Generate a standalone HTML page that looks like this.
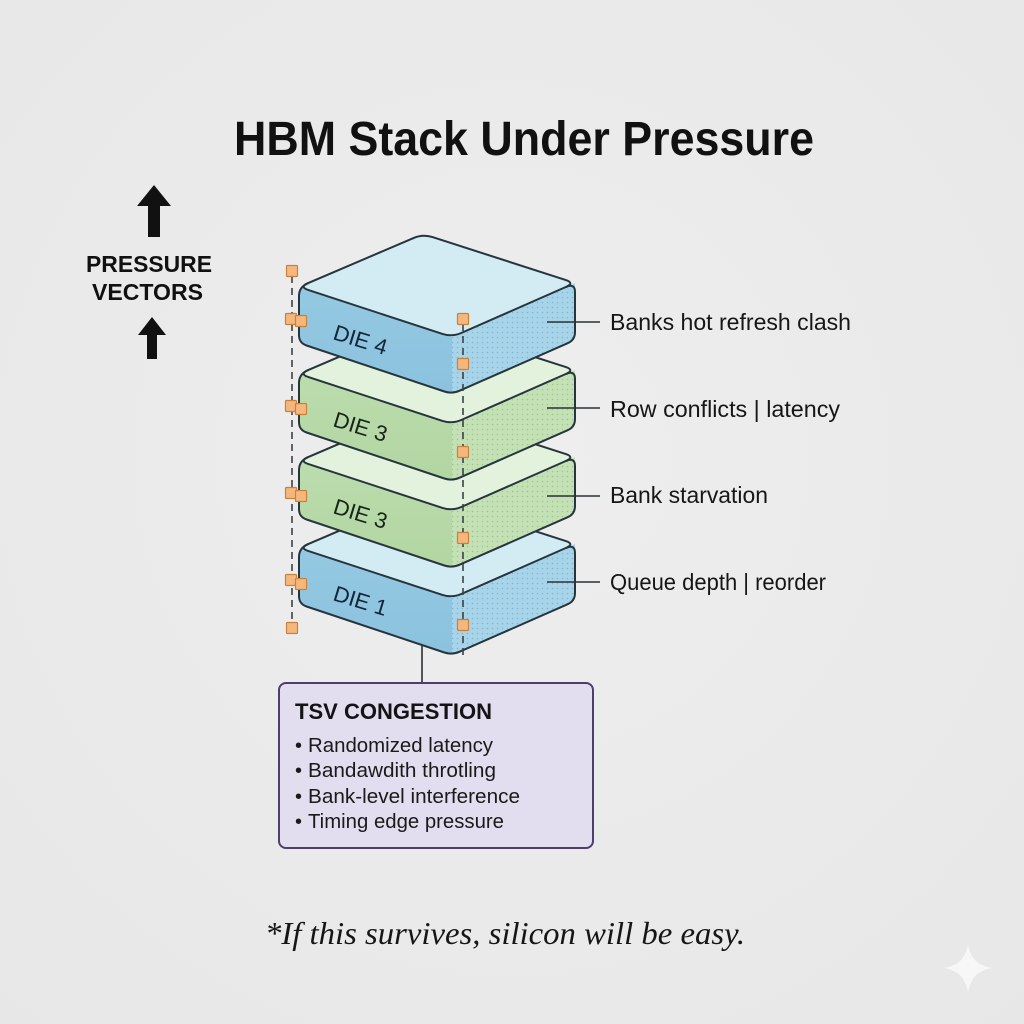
<!DOCTYPE html>
<html>
<head>
<meta charset="utf-8">
<style>
  html,body{margin:0;padding:0;background:#ebebeb;}
  svg{display:block;}
</style>
</head>
<body>
<svg width="1024" height="1024" viewBox="0 0 1024 1024" xmlns="http://www.w3.org/2000/svg">
  <defs>
    <radialGradient id="bg" cx="50%" cy="45%" r="75%">
      <stop offset="0" stop-color="#eeeeee"/>
      <stop offset="1" stop-color="#e7e7e7"/>
    </radialGradient>
    <pattern id="dotsBlue" width="5" height="5" patternUnits="userSpaceOnUse">
      <rect width="5" height="5" fill="#a7d4e9"/>
      <circle cx="2.5" cy="2.5" r="0.8" fill="#6fa9c9" opacity="0.7"/>
    </pattern>
    <pattern id="dotsGreen" width="5" height="5" patternUnits="userSpaceOnUse">
      <rect width="5" height="5" fill="#c4e1b6"/>
      <circle cx="2.5" cy="2.5" r="0.8" fill="#8dbb7c" opacity="0.7"/>
    </pattern>
    <linearGradient id="blueLeft" x1="0" y1="0" x2="0" y2="1">
      <stop offset="0" stop-color="#95c9e2"/>
      <stop offset="1" stop-color="#8bc2de"/>
    </linearGradient>
    <linearGradient id="greenLeft" x1="0" y1="0" x2="0" y2="1">
      <stop offset="0" stop-color="#bcdcad"/>
      <stop offset="1" stop-color="#b2d6a2"/>
    </linearGradient>
  </defs>

  <rect width="1024" height="1024" fill="url(#bg)"/>

  <!-- Title -->
  <text x="234" y="155" font-family="Liberation Sans, Arial, sans-serif" font-weight="bold" font-size="48" fill="#111" textLength="580" lengthAdjust="spacingAndGlyphs">HBM Stack Under Pressure</text>

  <!-- Pressure vectors -->
  <polygon points="154,185 171,206 160,206 160,237 148,237 148,206 137,206" fill="#111"/>
  <text x="86" y="272" font-family="Liberation Sans, Arial, sans-serif" font-weight="bold" font-size="23" fill="#111" textLength="126" lengthAdjust="spacingAndGlyphs">PRESSURE</text>
  <text x="92" y="300" font-family="Liberation Sans, Arial, sans-serif" font-weight="bold" font-size="23" fill="#111" textLength="111" lengthAdjust="spacingAndGlyphs">VECTORS</text>
  <polygon points="152,317 166,335 157,335 157,359 147,359 147,335 138,335" fill="#111"/>

  <!-- Left dashed line -->
  <line x1="292" y1="276" x2="292" y2="623" stroke="#3b4148" stroke-width="1.6" stroke-dasharray="7,5"/>

  <!-- Die 1 (bottom) -->
  <g transform="translate(0,261)">
    <path d="M308.2,283.1 Q299,287 299,296 L299,335 Q299,343 306.6,345.5 L444.4,391.5 Q452,394 459.3,390.8 L567.7,343.2 Q575,340 575,332 L575,292 Q575,283 565.8,287 L452,337 Z" fill="url(#blueLeft)"/>
    <path d="M452,337 L575,283 L575,332 Q575,340 567.7,343.2 L459.3,390.8 Q455,392.8 452,393 Z" fill="url(#dotsBlue)"/>
    <path d="M413.8,237.9 L308.2,283.1 Q299,287 308.5,290.1 L442.5,333.9 Q452,337 461.2,333 L565.8,287 Q575,283 565.5,279.9 L432.5,237.1 Q423,234 413.8,237.9 Z" fill="#d3ebf2" stroke="#26353d" stroke-width="2" stroke-linejoin="round"/>
    <path d="M308.2,283.1 Q299,287 299,296 L299,335 Q299,343 306.6,345.5 L444.4,391.5 Q452,394 459.3,390.8 L567.7,343.2 Q575,340 575,332 L575,292 Q575,283 565.8,287" fill="none" stroke="#26353d" stroke-width="2" stroke-linejoin="round"/>
    <text transform="translate(332,339) rotate(17)" font-family="Liberation Sans, Arial, sans-serif" font-size="22" fill="#14243a">DIE 1</text>
  </g>

  <!-- Die 3 (lower) -->
  <g transform="translate(0,174)">
    <path d="M308.2,283.1 Q299,287 299,296 L299,335 Q299,343 306.6,345.5 L444.4,391.5 Q452,394 459.3,390.8 L567.7,343.2 Q575,340 575,332 L575,292 Q575,283 565.8,287 L452,337 Z" fill="url(#greenLeft)"/>
    <path d="M452,337 L575,283 L575,332 Q575,340 567.7,343.2 L459.3,390.8 Q455,392.8 452,393 Z" fill="url(#dotsGreen)"/>
    <path d="M413.8,237.9 L308.2,283.1 Q299,287 308.5,290.1 L442.5,333.9 Q452,337 461.2,333 L565.8,287 Q575,283 565.5,279.9 L432.5,237.1 Q423,234 413.8,237.9 Z" fill="#e3f2dd" stroke="#26353d" stroke-width="2" stroke-linejoin="round"/>
    <path d="M308.2,283.1 Q299,287 299,296 L299,335 Q299,343 306.6,345.5 L444.4,391.5 Q452,394 459.3,390.8 L567.7,343.2 Q575,340 575,332 L575,292 Q575,283 565.8,287" fill="none" stroke="#26353d" stroke-width="2" stroke-linejoin="round"/>
    <text transform="translate(332,339) rotate(17)" font-family="Liberation Sans, Arial, sans-serif" font-size="22" fill="#17241a">DIE 3</text>
  </g>

  <!-- Die 3 (upper) -->
  <g transform="translate(0,87)">
    <path d="M308.2,283.1 Q299,287 299,296 L299,335 Q299,343 306.6,345.5 L444.4,391.5 Q452,394 459.3,390.8 L567.7,343.2 Q575,340 575,332 L575,292 Q575,283 565.8,287 L452,337 Z" fill="url(#greenLeft)"/>
    <path d="M452,337 L575,283 L575,332 Q575,340 567.7,343.2 L459.3,390.8 Q455,392.8 452,393 Z" fill="url(#dotsGreen)"/>
    <path d="M413.8,237.9 L308.2,283.1 Q299,287 308.5,290.1 L442.5,333.9 Q452,337 461.2,333 L565.8,287 Q575,283 565.5,279.9 L432.5,237.1 Q423,234 413.8,237.9 Z" fill="#e3f2dd" stroke="#26353d" stroke-width="2" stroke-linejoin="round"/>
    <path d="M308.2,283.1 Q299,287 299,296 L299,335 Q299,343 306.6,345.5 L444.4,391.5 Q452,394 459.3,390.8 L567.7,343.2 Q575,340 575,332 L575,292 Q575,283 565.8,287" fill="none" stroke="#26353d" stroke-width="2" stroke-linejoin="round"/>
    <text transform="translate(332,339) rotate(17)" font-family="Liberation Sans, Arial, sans-serif" font-size="22" fill="#17241a">DIE 3</text>
  </g>

  <!-- Die 4 (top) -->
  <g>
    <path d="M308.2,283.1 Q299,287 299,296 L299,335 Q299,343 306.6,345.5 L444.4,391.5 Q452,394 459.3,390.8 L567.7,343.2 Q575,340 575,332 L575,292 Q575,283 565.8,287 L452,337 Z" fill="url(#blueLeft)"/>
    <path d="M452,337 L575,283 L575,332 Q575,340 567.7,343.2 L459.3,390.8 Q455,392.8 452,393 Z" fill="url(#dotsBlue)"/>
    <path d="M413.8,237.9 L308.2,283.1 Q299,287 308.5,290.1 L442.5,333.9 Q452,337 461.2,333 L565.8,287 Q575,283 565.5,279.9 L432.5,237.1 Q423,234 413.8,237.9 Z" fill="#d3ebf2" stroke="#26353d" stroke-width="2" stroke-linejoin="round"/>
    <path d="M308.2,283.1 Q299,287 299,296 L299,335 Q299,343 306.6,345.5 L444.4,391.5 Q452,394 459.3,390.8 L567.7,343.2 Q575,340 575,332 L575,292 Q575,283 565.8,287" fill="none" stroke="#26353d" stroke-width="2" stroke-linejoin="round"/>
    <text transform="translate(332,339) rotate(17)" font-family="Liberation Sans, Arial, sans-serif" font-size="22" fill="#14243a">DIE 4</text>
  </g>

  <!-- Right dashed line -->
  <line x1="463" y1="324" x2="463" y2="660" stroke="#3b4148" stroke-width="1.6" stroke-dasharray="7,5"/>

  <!-- Right connectors -->
  <g stroke="#2b3135" stroke-width="1.6">
    <line x1="547" y1="322" x2="600" y2="322"/>
    <line x1="547" y1="408" x2="600" y2="408"/>
    <line x1="547" y1="496" x2="600" y2="496"/>
    <line x1="547" y1="582" x2="600" y2="582"/>
  </g>

  <!-- Orange squares -->
  <g fill="#f6b77c" stroke="#c8823f" stroke-width="1.2">
    <rect x="286.5" y="265.5" width="11" height="11" rx="1"/>
    <rect x="285.5" y="313.5" width="11" height="11" rx="1"/>
    <rect x="295.5" y="315.5" width="11" height="11" rx="1"/>
    <rect x="285.5" y="400.5" width="11" height="11" rx="1"/>
    <rect x="295.5" y="403.5" width="11" height="11" rx="1"/>
    <rect x="285.5" y="487.5" width="11" height="11" rx="1"/>
    <rect x="295.5" y="490.5" width="11" height="11" rx="1"/>
    <rect x="285.5" y="574.5" width="11" height="11" rx="1"/>
    <rect x="295.5" y="578.5" width="11" height="11" rx="1"/>
    <rect x="286.5" y="622.5" width="11" height="11" rx="1"/>
    <rect x="457.5" y="313.5" width="11" height="11" rx="1"/>
    <rect x="457.5" y="358.5" width="11" height="11" rx="1"/>
    <rect x="457.5" y="446.5" width="11" height="11" rx="1"/>
    <rect x="457.5" y="532.5" width="11" height="11" rx="1"/>
    <rect x="457.5" y="619.5" width="11" height="11" rx="1"/>
  </g>

  <!-- Right labels -->
  <g font-family="Liberation Sans, Arial, sans-serif" font-size="23" fill="#161616">
    <text x="610" y="330" textLength="241" lengthAdjust="spacingAndGlyphs">Banks hot refresh clash</text>
    <text x="610" y="417" textLength="230" lengthAdjust="spacingAndGlyphs">Row conflicts | latency</text>
    <text x="610" y="503" textLength="158" lengthAdjust="spacingAndGlyphs">Bank starvation</text>
    <text x="610" y="590" textLength="216" lengthAdjust="spacingAndGlyphs">Queue depth | reorder</text>
  </g>

  <!-- Connector to TSV box -->
  <line x1="422" y1="645" x2="422" y2="684" stroke="#2b3135" stroke-width="1.6"/>

  <!-- TSV box -->
  <rect x="279" y="683" width="314" height="165" rx="7" fill="#e3ddf0" stroke="#4d3f6d" stroke-width="2"/>
  <text x="295" y="719" font-family="Liberation Sans, Arial, sans-serif" font-weight="bold" font-size="22" fill="#141414" textLength="197" lengthAdjust="spacingAndGlyphs">TSV CONGESTION</text>
  <g font-family="Liberation Sans, Arial, sans-serif" font-size="20" fill="#1a1a1a">
    <text x="295" y="752">•</text>
    <text x="308" y="752" textLength="185" lengthAdjust="spacingAndGlyphs">Randomized latency</text>
    <text x="295" y="777">•</text>
    <text x="308" y="777" textLength="188" lengthAdjust="spacingAndGlyphs">Bandawdith throtling</text>
    <text x="295" y="803">•</text>
    <text x="308" y="803" textLength="212" lengthAdjust="spacingAndGlyphs">Bank-level interference</text>
    <text x="295" y="828">•</text>
    <text x="308" y="828" textLength="196" lengthAdjust="spacingAndGlyphs">Timing edge pressure</text>
  </g>

  <!-- Footer -->
  <text x="265" y="944" font-family="Liberation Serif, 'DejaVu Serif', serif" font-style="italic" font-size="32" fill="#161616" textLength="480" lengthAdjust="spacingAndGlyphs">*If this survives, silicon will be easy.</text>

  <!-- Sparkle -->
  <path d="M968,944 Q971,965 992,968 Q971,971 968,993 Q965,971 944,968 Q965,965 968,944 Z" fill="#f7f7f7"/>
</svg>
</body>
</html>
